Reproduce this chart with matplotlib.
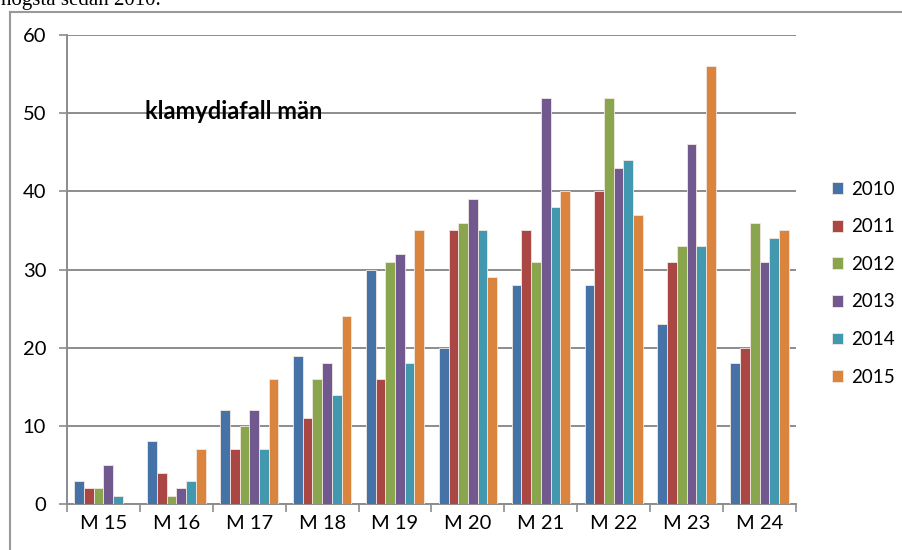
import numpy as np
import matplotlib.pyplot as plt
from matplotlib.lines import Line2D

# weekly counts per year
weeks = ["M 15", "M 16", "M 17", "M 18", "M 19", "M 20", "M 21", "M 22", "M 23", "M 24"]
years = ["2010", "2011", "2012", "2013", "2014", "2015"]
v2010 = [3, 8, 12, 19, 30, 20, 28, 28, 23, 18]
v2011 = [2, 4, 7, 11, 16, 35, 35, 40, 31, 20]
v2012 = [2, 1, 10, 16, 31, 36, 31, 52, 33, 36]
v2013 = [5, 2, 12, 18, 32, 39, 52, 43, 46, 31]
v2014 = [1, 3, 7, 14, 18, 35, 38, 44, 33, 34]
v2015 = [0, 7, 16, 24, 35, 29, 40, 37, 56, 35]
series = [v2010, v2011, v2012, v2013, v2014, v2015]
colors = ["#4572A7", "#AA4643", "#89A54E", "#71588F", "#4198AF", "#DB843D"]

font = ["Lato", "DejaVu Sans"]
plt.rcParams['font.family'] = font

fig = plt.figure(figsize=(9.03, 5.5), dpi=100)
ax = fig.add_axes([0.0742, 0.0836, 0.8073, 0.8527])

x = np.arange(len(weeks))
w = 1 / 7.5  # gap width 150%
for i, (vals, c, yr) in enumerate(zip(series, colors, years)):
    ax.bar(x + (i - 2.5) * w, vals, w, color=c, edgecolor="#f2e8e0", linewidth=0.6,
           label=yr, zorder=3)

ax.set_xlim(-0.5, len(weeks) - 0.5)
ax.set_ylim(0, 60)
ax.set_yticks(range(0, 61, 10))
ax.yaxis.grid(True, color="#8c8c8c", linewidth=1.4, zorder=0)
ax.set_axisbelow(True)

ax.set_xticks(x)
ax.set_xticklabels(weeks, fontsize=14.5)
ax.tick_params(axis="x", length=0, pad=8)
ax.set_xticks(np.arange(-0.5, len(weeks)), minor=True)
ax.tick_params(axis="x", which="minor", length=6, width=1.2, color="#8c8c8c")
ax.tick_params(axis="y", length=6, width=1.2, color="#8c8c8c", labelsize=14.5, pad=9)

for s in ["top", "right"]:
    ax.spines[s].set_visible(False)
for s in ["left", "bottom"]:
    ax.spines[s].set_color("#8c8c8c")
    ax.spines[s].set_linewidth(1.4)

ax.text(0.229, 0.838, "klamydiafall män", transform=ax.transAxes, fontsize=17,
        fontweight="bold", ha="center", va="center")

ax.legend(loc="center left", bbox_to_anchor=(1.049, 0.471), frameon=False,
          fontsize=13.5, handlelength=0.6, handleheight=0.6, handletextpad=0.45,
          labelspacing=1.1, borderaxespad=0, borderpad=0)

# outer chart frame
fig.add_artist(Line2D([10.5 / 903, 10.5 / 903], [0, 1 - 11.5 / 550],
                      transform=fig.transFigure, color="#999999", linewidth=1.5))
fig.add_artist(Line2D([10.5 / 903, 1], [1 - 11.5 / 550, 1 - 11.5 / 550],
                      transform=fig.transFigure, color="#999999", linewidth=1.5))

# surrounding document text
fig.text(1 / 903, 1 - 5 / 550, "högsta sedan 2010.", family="Liberation Serif",
         fontsize=15, va="baseline", ha="left")

fig.savefig("out.png", dpi=100)
